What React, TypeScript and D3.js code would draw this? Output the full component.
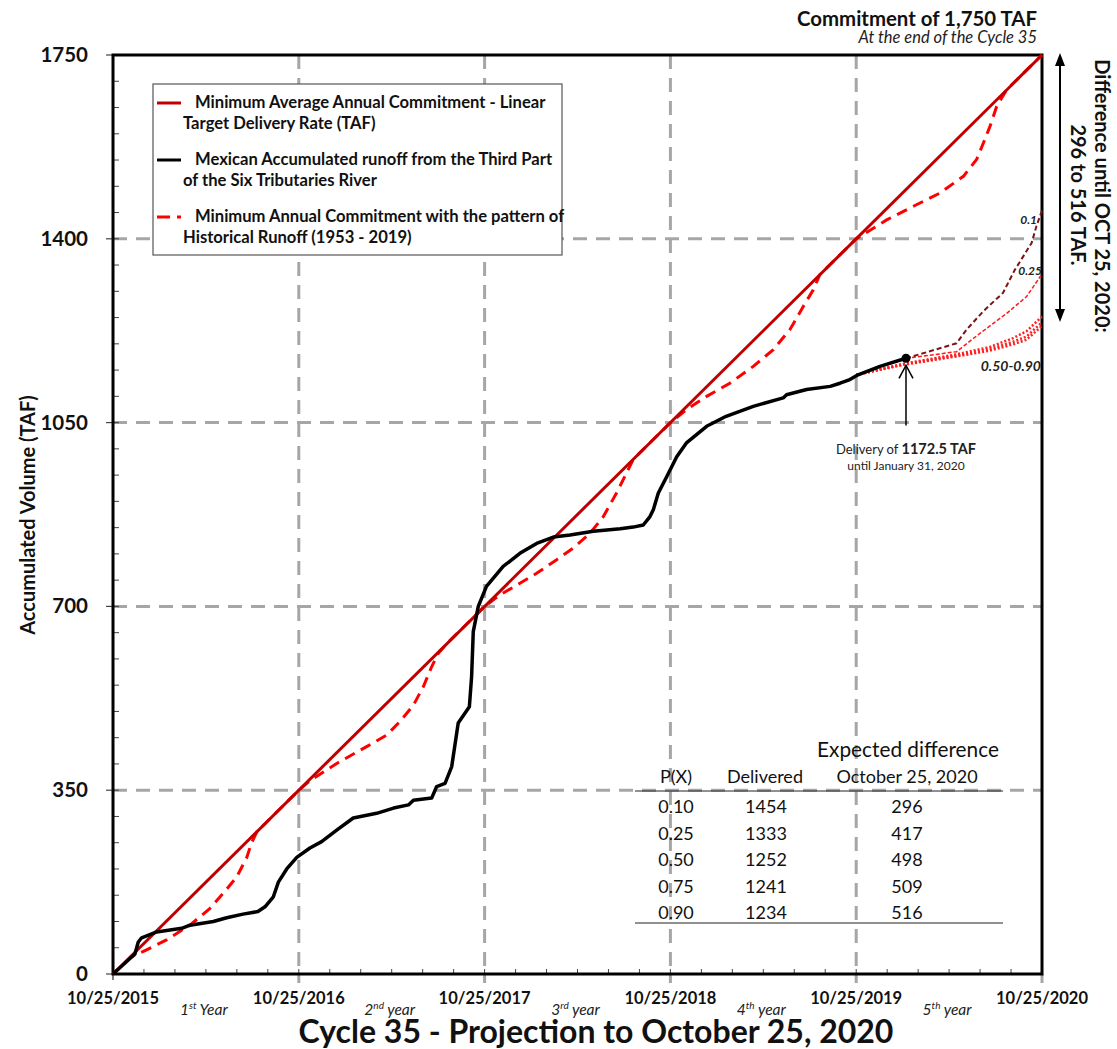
import React from "react";
import * as d3 from "d3";

// ---------- DATA (years since 10/25/2015, TAF) ----------
const linearT = [0, 5];
const linearV = [0, 1750];

const runoffT = [0, 0.118, 0.136, 0.154, 0.235, 0.37, 0.414, 0.54, 0.612, 0.70, 0.78, 0.818, 0.863, 0.89, 0.935, 0.989, 1.06, 1.123, 1.204, 1.293, 1.419, 1.51, 1.59, 1.617, 1.715, 1.742, 1.787, 1.823, 1.858, 1.918, 1.93, 1.939, 1.966, 2.01, 2.10, 2.19, 2.28, 2.37, 2.46, 2.585, 2.73, 2.80, 2.854, 2.89, 2.908, 2.935, 2.98, 3.034, 3.088, 3.195, 3.30, 3.446, 3.607, 3.625, 3.733, 3.86, 3.913, 3.966, 4.01, 4.128, 4.268];
const runoffV = [0, 38, 61, 69, 80, 87, 93, 100, 107, 114, 119, 128, 147, 175, 200, 222, 240, 252, 274, 297, 306, 316, 322, 331, 335, 357, 363, 395, 478, 509, 566, 652, 700, 738, 776, 801, 820, 832, 836, 843, 848, 851, 855, 871, 884, 916, 947, 985, 1012, 1043, 1062, 1081, 1097, 1103, 1113, 1119, 1125, 1132, 1141, 1157, 1172.5];

const histT = [0, 0.1, 0.181, 0.288, 0.414, 0.522, 0.594, 0.666, 0.72, 0.746, 0.775, 1.0, 1.06, 1.204, 1.365, 1.473, 1.545, 1.617, 1.67, 1.715, 1.751, 1.796, 2.0, 2.083, 2.19, 2.28, 2.388, 2.477, 2.567, 2.639, 2.71, 2.764, 2.80, 3.0, 3.088, 3.195, 3.32, 3.446, 3.554, 3.643, 3.715, 3.769, 3.805, 4.0, 4.164, 4.308, 4.45, 4.577, 4.648, 4.684, 4.72, 4.756, 4.81, 5.0];
const histV = [0, 33, 46, 65, 93, 125, 154, 185, 222, 250, 271, 350, 368, 401, 433, 455, 481, 512, 547, 585, 611, 629, 700, 722, 744, 763, 789, 811, 839, 871, 916, 954, 980, 1050, 1075, 1100, 1125, 1157, 1189, 1227, 1271, 1303, 1332, 1400, 1436, 1462, 1487, 1519, 1551, 1582, 1614, 1652, 1684, 1750];

const p10T = [4.268, 4.379, 4.54, 4.594, 4.684, 4.79, 4.854, 4.944, 4.97, 5.0];
const p10V = [1172.5, 1184, 1201, 1227, 1262, 1297, 1341, 1392, 1424, 1454];
const p25T = [4.268, 4.54, 4.666, 4.81, 4.917, 5.0];
const p25V = [1172.5, 1185, 1220, 1258, 1290, 1333];
const pLowT = [4.0, 4.254, 4.54, 4.72, 4.845, 4.917, 5.0];
const p50V = [1141, 1162, 1180, 1194, 1211, 1224, 1252];
const p75V = [1141, 1161, 1178, 1190, 1204, 1214, 1241];
const p90V = [1141, 1160, 1176, 1187, 1199, 1208, 1234];

const deliveryT = 4.268;
const deliveryV = 1172.5;

const yTickValues = [0, 350, 700, 1050, 1400, 1750];
const xTickLabels = ["10/25/2015", "10/25/2016", "10/25/2017", "10/25/2018", "10/25/2019", "10/25/2020"];
const yearOrdinals = ["1", "2", "3", "4", "5"];
const yearSuffixes = ["st", "nd", "rd", "th", "th"];
const yearWords = ["Year", "year", "year", "year", "year"];

const tableP = ["0.10", "0.25", "0.50", "0.75", "0.90"];
const tableDelivered = [1454, 1333, 1252, 1241, 1234];
const tableDiff = [296, 417, 498, 509, 516];

const legendItems = [
  ["Minimum Average Annual Commitment - Linear", "Target Delivery Rate (TAF)"],
  ["Mexican Accumulated runoff from the Third Part", "of the Six Tributaries River"],
  ["Minimum Annual Commitment with the pattern of", "Historical Runoff (1953  - 2019)"],
];

// ---------- LAYOUT ----------
const W = 1117, H = 1049;
const X0 = 113, X1 = 1042, Y0 = 974, Y1 = 55;
const FONT = "Lato, 'Open Sans', sans-serif";
const GRID = "#a6a6a6";

const x = d3.scaleLinear().domain([0, 5]).range([X0, X1]);
const y = d3.scaleLinear().domain([0, 1750]).range([Y0, Y1]);

const zip = (t: number[], v: number[]) => t.map((d, i) => [d, v[i]] as [number, number]);
const line = d3.line<[number, number]>().x(d => x(d[0])).y(d => y(d[1]));

export default function App() {
  const minorY = d3.range(0, 1751, 50);
  const minorX = d3.range(0, 5.0001, 1 / 6);
  return (
    <svg width={W} height={H} style={{ position: "absolute", left: 0, top: 0, background: "#fff" }} fontFamily={FONT}>
      <rect x={0} y={0} width={W} height={H} fill="#fff" />
      {/* gridlines */}
      {[1, 2, 3, 4].map(t => (
        <line key={"gx" + t} x1={x(t)} x2={x(t)} y1={Y1} y2={Y0 + 9} stroke={GRID} strokeWidth={3} strokeDasharray="14 9" />
      ))}
      {[350, 700, 1050, 1400].map(v => (
        <line key={"gy" + v} x1={X0} x2={X1} y1={y(v)} y2={y(v)} stroke={GRID} strokeWidth={3} strokeDasharray="14 9" />
      ))}
      <line x1={x(5)} x2={x(5)} y1={Y0} y2={Y0 + 9} stroke={GRID} strokeWidth={3} />
      <line x1={x(0)} x2={x(0)} y1={Y0} y2={Y0 + 6} stroke="#555" strokeWidth={1.5} />
      {/* minor ticks */}
      {minorY.map(v => (
        <line key={"my" + v} x1={X0} x2={X0 + 6} y1={y(v)} y2={y(v)} stroke="#444" strokeWidth={1} />
      ))}
      {yTickValues.map(v => (
        <line key={"My" + v} x1={X0 - 7} x2={X0} y1={y(v)} y2={y(v)} stroke="#444" strokeWidth={1.2} />
      ))}
      {minorX.map((t, i) => (
        <line key={"mx" + i} x1={x(t)} x2={x(t)} y1={Y0} y2={Y0 - 5} stroke="#444" strokeWidth={1} />
      ))}
      {/* frame */}
      <rect x={X0} y={Y1} width={X1 - X0} height={Y0 - Y1} fill="none" stroke="#000" strokeWidth={3} />
      {/* data lines */}
      <path d={line(zip(histT, histV)) || ""} fill="none" stroke="#ff0000" strokeWidth={3} strokeDasharray="11 7" />
      <path d={line(zip(linearT, linearV)) || ""} fill="none" stroke="#c00000" strokeWidth={3} />
      <path d={line(zip(pLowT, p90V)) || ""} fill="none" stroke="#ff2020" strokeWidth={2.5} strokeDasharray="2 2" />
      <path d={line(zip(pLowT, p75V)) || ""} fill="none" stroke="#ff2020" strokeWidth={2.5} strokeDasharray="2 2" />
      <path d={line(zip(pLowT, p50V)) || ""} fill="none" stroke="#ff2020" strokeWidth={2.5} strokeDasharray="2 2" />
      <path d={line(zip(p25T, p25V)) || ""} fill="none" stroke="#ff1a1a" strokeWidth={1.5} strokeDasharray="4 2" />
      <path d={line(zip(p10T, p10V)) || ""} fill="none" stroke="#7b1414" strokeWidth={2} strokeDasharray="5 3" />
      <path d={line(zip(runoffT, runoffV)) || ""} fill="none" stroke="#000" strokeWidth={3.5} strokeLinejoin="round" />
      <circle cx={x(deliveryT)} cy={y(deliveryV)} r={4.5} fill="#000" />
      {/* projection labels */}
      <text x={1037} y={224} fontSize={12} fontWeight="bold" fontStyle="italic" textAnchor="end" fill="#222">0.1</text>
      <text x={1042} y={275} fontSize={12} fontWeight="bold" fontStyle="italic" textAnchor="end" fill="#222">0.25</text>
      <text x={1041} y={371} fontSize={14} fontWeight="bold" fontStyle="italic" textAnchor="end" fill="#222">0.50-0.90</text>
      {/* delivery arrow */}
      <line x1={x(deliveryT)} x2={x(deliveryT)} y1={y(deliveryV) + 7} y2={y(1050) + 3} stroke="#000" strokeWidth={1.5} />
      <polyline points={`${x(deliveryT) - 7},${y(deliveryV) + 20} ${x(deliveryT)},${y(deliveryV) + 7} ${x(deliveryT) + 7},${y(deliveryV) + 20}`} fill="none" stroke="#000" strokeWidth={1.5} />
      <text x={x(deliveryT)} y={454} textAnchor="middle" fontSize={13} fill="#222">
        Delivery of <tspan fontWeight="bold" fontSize={14.5}>1172.5 TAF</tspan>
      </text>
      <text x={x(deliveryT)} y={470} textAnchor="middle" fontSize={12} fill="#222">until January 31, 2020</text>
      {/* legend */}
      <rect x={153} y={84} width={409} height={171} fill="#fff" stroke="#555" strokeWidth={1.2} />
      <line x1={157} x2={181} y1={103} y2={103} stroke="#c00000" strokeWidth={3} />
      <line x1={157} x2={181} y1={160} y2={160} stroke="#000" strokeWidth={3} />
      <line x1={157} x2={170} y1={217} y2={217} stroke="#ff0000" strokeWidth={3} />
      <line x1={177} x2={181} y1={217} y2={217} stroke="#ff0000" strokeWidth={3} />
      {legendItems.map((lines, i) => (
        <g key={"lg" + i} fontSize={16.6} fontWeight="bold" fill="#111">
          <text x={195} y={108 + i * 57}>{lines[0]}</text>
          <text x={183} y={129 + i * 57}>{lines[1]}</text>
        </g>
      ))}
      {/* y axis labels */}
      {yTickValues.map(v => (
        <text key={"yl" + v} x={88} y={y(v) + 7} textAnchor="end" fontSize={20.5} fontWeight="bold" fill="#111">{v}</text>
      ))}
      <text transform="translate(35,515) rotate(-90)" textAnchor="middle" fontSize={20} fontWeight="bold" fill="#111">Accumulated Volume (TAF)</text>
      {/* x axis labels */}
      {xTickLabels.map((lab, i) => (
        <text key={"xl" + i} x={x(i)} y={1004} textAnchor="middle" fontSize={16.5} fontWeight="bold" fill="#111">{lab}</text>
      ))}
      {yearOrdinals.map((o, i) => (
        <text key={"yr" + i} x={x(i + 0.5) - 2} y={1015} textAnchor="middle" fontSize={15.5} fontStyle="italic" fill="#222">
          {o}<tspan fontSize={10} dy={-6}>{yearSuffixes[i]}</tspan><tspan dy={6}>{" " + yearWords[i]}</tspan>
        </text>
      ))}
      <text x={596} y={1043} textAnchor="middle" fontSize={32} fontWeight="bold" fill="#111">Cycle 35 - Projection to October 25, 2020</text>
      {/* header */}
      <text x={1037} y={26} textAnchor="end" fontSize={20.4} fontWeight="bold" fill="#111">Commitment of  1,750 TAF</text>
      <text x={1037} y={43} textAnchor="end" fontSize={16.5} fontStyle="italic" fill="#222">At the end of the Cycle 35</text>
      {/* right arrow + text */}
      <line x1={1060} x2={1060} y1={62} y2={314} stroke="#000" strokeWidth={2} />
      <polygon points="1060,53 1055,66 1065,66" fill="#000" />
      <polygon points="1060,322 1055,309 1065,309" fill="#000" />
      <text transform="translate(1095,196) rotate(90)" textAnchor="middle" fontSize={20} fontWeight="bold" fill="#111">Difference until OCT 25, 2020:</text>
      <text transform="translate(1071,195) rotate(90)" textAnchor="middle" fontSize={20} fontWeight="bold" fill="#111">296 to 516 TAF.</text>
      {/* table */}
      <text x={908} y={757} textAnchor="middle" fontSize={20.8} fill="#111">Expected difference</text>
      <text x={676} y={783} textAnchor="middle" fontSize={18} fill="#111">P(X)</text>
      <text x={765} y={783} textAnchor="middle" fontSize={18} fill="#111">Delivered</text>
      <text x={907} y={783} textAnchor="middle" fontSize={18} fill="#111">October 25, 2020</text>
      <line x1={635} x2={1003} y1={791} y2={791} stroke="#222" strokeWidth={1.2} />
      {tableP.map((p, i) => (
        <g key={"tr" + i} fontSize={18} fill="#111" textAnchor="middle">
          <text x={676} y={813 + i * 26.5}>{p}</text>
          <text x={766} y={813 + i * 26.5}>{tableDelivered[i]}</text>
          <text x={907} y={813 + i * 26.5}>{tableDiff[i]}</text>
        </g>
      ))}
      <line x1={635} x2={1003} y1={923} y2={923} stroke="#222" strokeWidth={1.2} />
    </svg>
  );
}
